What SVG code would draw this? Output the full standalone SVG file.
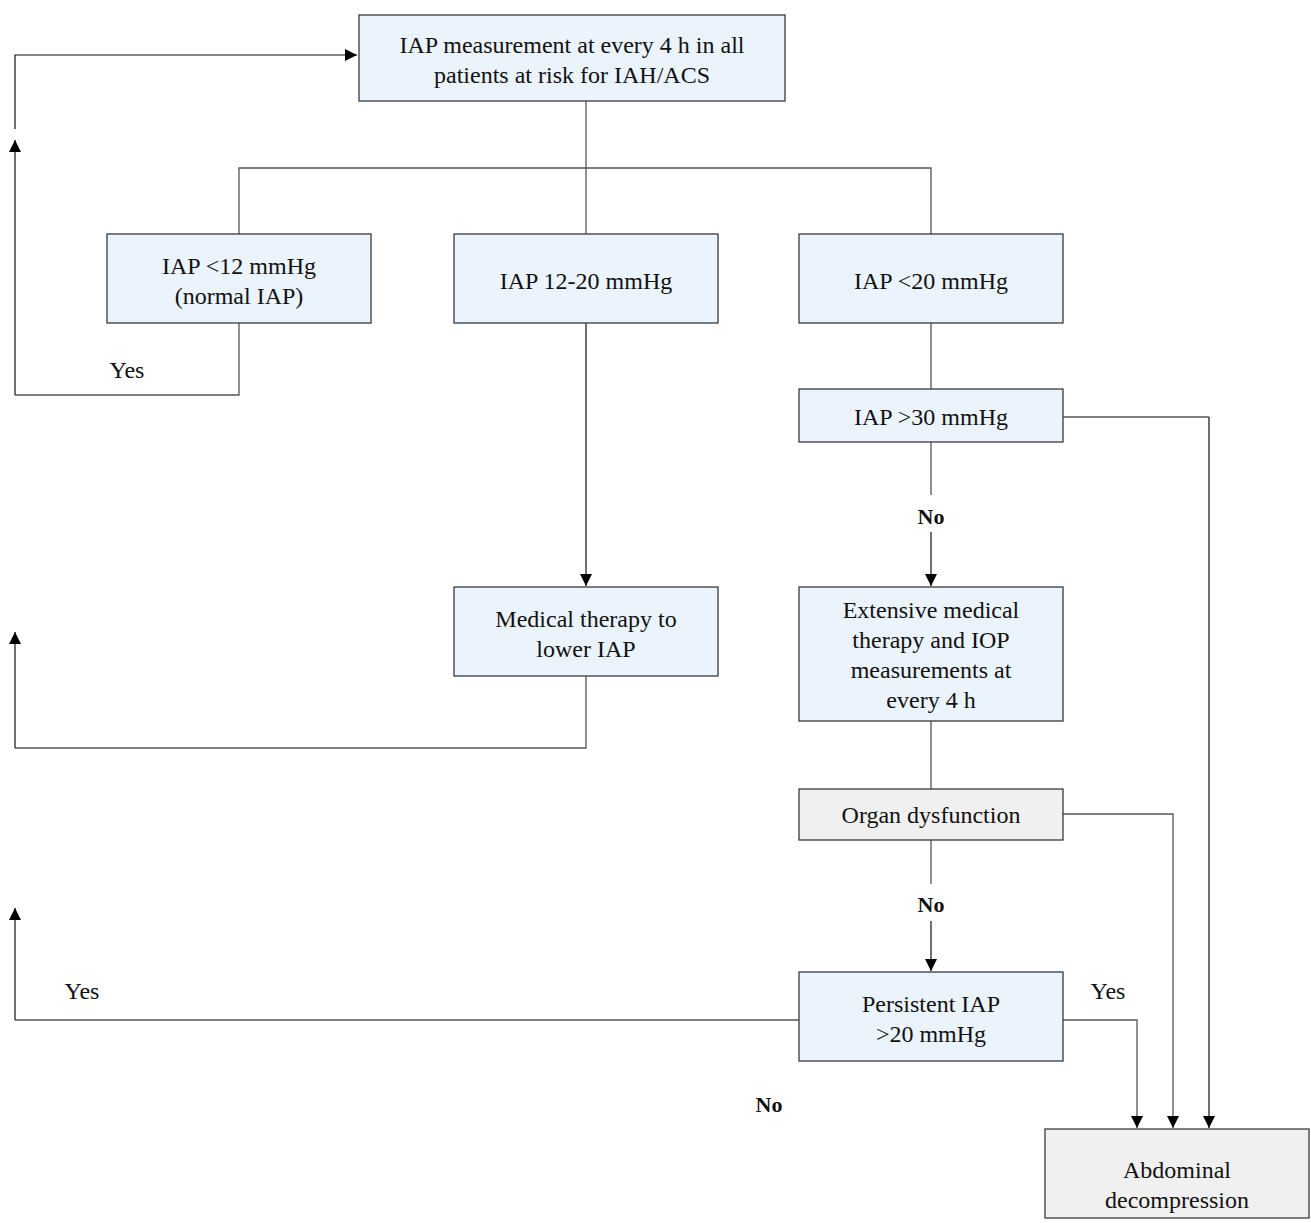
<svg xmlns="http://www.w3.org/2000/svg" width="1311" height="1223" viewBox="0 0 1311 1223">
<style>
.b{fill:#ebf3fc;stroke:#3a3a3a;stroke-width:1.3}
.g{fill:#f0f0f0;stroke:#3a3a3a;stroke-width:1.3}
.c{fill:none;stroke:#555;stroke-width:1.3}
.k{fill:none;stroke:#111;stroke-width:1.2}
text{font-family:"Liberation Serif","DejaVu Serif",serif;font-size:24px;fill:#111;text-anchor:middle}
.n{font-weight:bold;font-size:22px}
</style>
<defs>
<marker id="a" viewBox="0 0 10 10" refX="10" refY="5" markerWidth="12" markerHeight="12" markerUnits="userSpaceOnUse" orient="auto"><path d="M0,0L10,5L0,10z" fill="#000"/></marker>
</defs>
<g id="connectors">
<path class="k" d="M15,129V55H357" marker-end="url(#a)"/>
<path class="c" d="M586,101V168"/>
<path class="c" d="M239,234V168H931V234"/>
<path class="c" d="M586,168V234"/>
<path class="c" d="M239,323V395H15"/>
<path class="k" d="M15,395V140" marker-end="url(#a)"/>
<path class="k" d="M586,323V586" marker-end="url(#a)"/>
<path class="c" d="M586,676V748H15"/>
<path class="k" d="M15,748V632" marker-end="url(#a)"/>
<path class="c" d="M931,323V389"/>
<path class="c" d="M1063,417H1209"/>
<path class="k" d="M1209,417V1128" marker-end="url(#a)"/>
<path class="c" d="M931,442V495"/>
<path class="k" d="M931,532V586" marker-end="url(#a)"/>
<path class="c" d="M931,721V789"/>
<path class="c" d="M1063,814H1173V1128" marker-end="url(#a)"/>
<path class="c" d="M931,840V884"/>
<path class="k" d="M931,921V971" marker-end="url(#a)"/>
<path class="c" d="M799,1020H15"/>
<path class="k" d="M15,1020V908" marker-end="url(#a)"/>
<path class="c" d="M1063,1020H1137V1128" marker-end="url(#a)"/>
<text x="127" y="378">Yes</text>
<text class="n" x="931" y="524">No</text>
<text class="n" x="931" y="912">No</text>
<text x="82" y="999">Yes</text>
<text x="1108" y="999">Yes</text>
<text class="n" x="769" y="1112">No</text>
</g>
<g id="n1"><rect class="b" x="359" y="15" width="426" height="86"/><text x="572" y="53">IAP measurement at every 4 h in all</text><text x="572" y="83">patients at risk for IAH/ACS</text></g>
<g id="n2"><rect class="b" x="107" y="234" width="264" height="89"/><text x="239" y="274">IAP &lt;12 mmHg</text><text x="239" y="304">(normal IAP)</text></g>
<g id="n3"><rect class="b" x="454" y="234" width="264" height="89"/><text x="586" y="289">IAP 12-20 mmHg</text></g>
<g id="n4"><rect class="b" x="799" y="234" width="264" height="89"/><text x="931" y="289">IAP &lt;20 mmHg</text></g>
<g id="n5"><rect class="b" x="799" y="389" width="264" height="53"/><text x="931" y="425">IAP &gt;30 mmHg</text></g>
<g id="n6"><rect class="b" x="454" y="587" width="264" height="89"/><text x="586" y="627">Medical therapy to</text><text x="586" y="657">lower IAP</text></g>
<g id="n7"><rect class="b" x="799" y="587" width="264" height="134"/><text x="931" y="618">Extensive medical</text><text x="931" y="648">therapy and IOP</text><text x="931" y="678">measurements at</text><text x="931" y="708">every 4 h</text></g>
<g id="n8"><rect class="g" x="799" y="789" width="264" height="51"/><text x="931" y="823">Organ dysfunction</text></g>
<g id="n9"><rect class="b" x="799" y="972" width="264" height="89"/><text x="931" y="1012">Persistent IAP</text><text x="931" y="1042">&gt;20 mmHg</text></g>
<g id="n10"><rect class="g" x="1045" y="1129" width="264" height="89"/><text x="1177" y="1178">Abdominal</text><text x="1177" y="1208">decompression</text></g>
</svg>
